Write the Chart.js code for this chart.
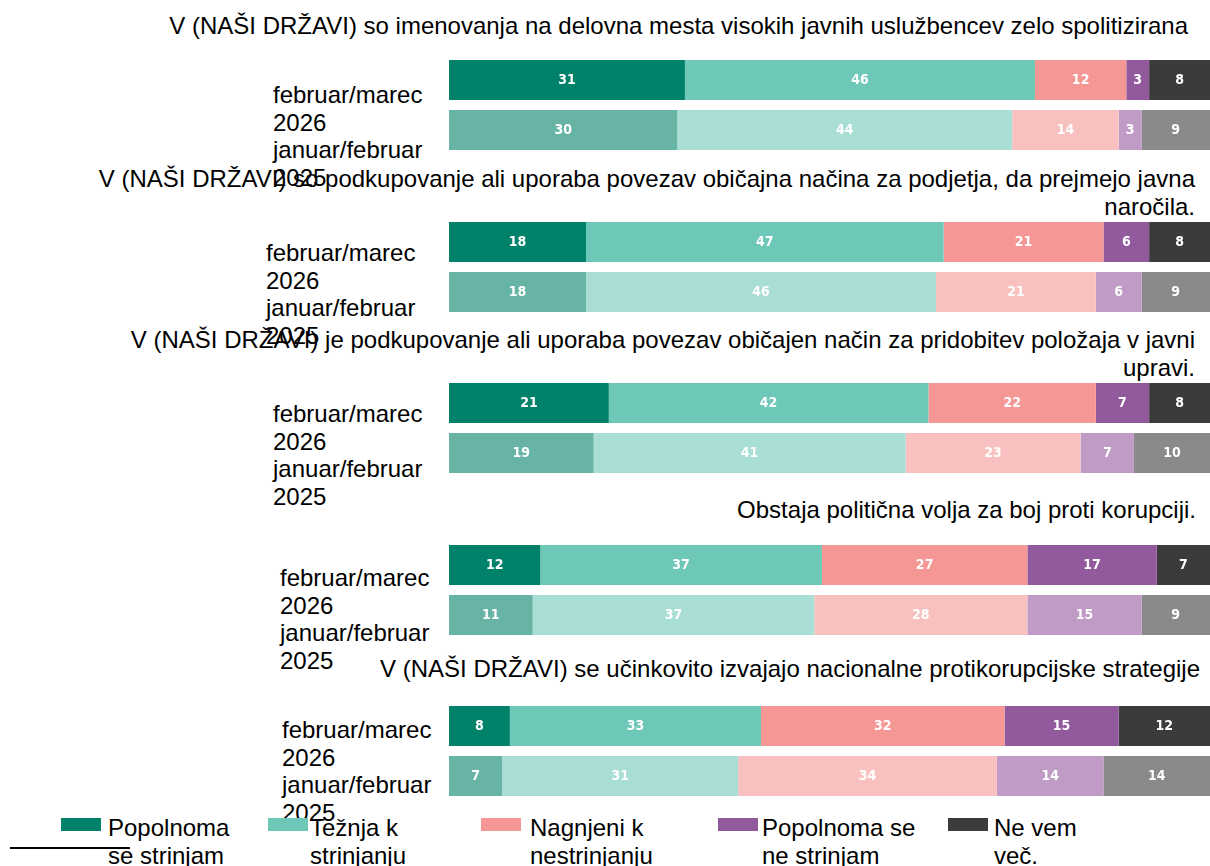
<!DOCTYPE html>
<html>
<head>
<meta charset="utf-8">
<script src="https://cdn.jsdelivr.net/npm/chart.js@4.4.1/dist/chart.umd.min.js"></script>
<style>
  body {
    margin: 0;
    width: 1210px;
    height: 866px;
    overflow: hidden;
    background: #fff;
    position: relative;
    font-family: 'Liberation Sans', Arial, sans-serif;
    font-size: 24px;
    color: #000;
  }
  .title {
    position: absolute;
    width: 1110px;
    text-align: right;
    line-height: 27.6px;
  }
  .periods {
    position: absolute;
    width: 165px;
    line-height: 27.6px;
  }
  .key {
    position: absolute;
    width: 40px;
    height: 13px;
  }
  .keyText {
    position: absolute;
    line-height: 27.6px;
  }
  .rule {
    position: absolute;
    left: 10px;
    top: 847px;
    width: 120px;
    height: 2px;
    background: #000;
  }
  canvas { position: absolute; }
</style>
</head>
<body>
<div class="rule"></div>
<script>
// questions (one panel each)
const questions = [
  'V (NAŠI DRŽAVI) so imenovanja na delovna mesta visokih javnih uslužbencev zelo spolitizirana',
  'V (NAŠI DRŽAVI) so podkupovanje ali uporaba povezav običajna načina za podjetja, da prejmejo javna naročila.',
  'V (NAŠI DRŽAVI) je podkupovanje ali uporaba povezav običajen način za pridobitev položaja v javni upravi.',
  'Obstaja politična volja za boj proti korupciji.',
  'V (NAŠI DRŽAVI) se učinkovito izvajajo nacionalne protikorupcijske strategije'
];

// survey waves, one bar each inside a panel
const periods = ['februar/marec 2026', 'januar/februar 2025'];

// answer categories
const answers = [
  'Popolnoma se strinjam',
  'Težnja k strinjanju',
  'Nagnjeni k nestrinjanju',
  'Popolnoma se ne strinjam',
  'Ne vem več.'
];

// values in %, pairs per question: [2026, 2025, 2026, 2025, ...]
const popolnomaSeStrinjam   = [31, 30, 18, 18, 21, 19, 12, 11, 8, 7];
const teznjaKStrinjanju     = [46, 44, 47, 46, 42, 41, 37, 37, 33, 31];
const nagnjeniKNestrinjanju = [12, 14, 21, 21, 22, 23, 27, 28, 32, 34];
const popolnomaSeNeStrinjam = [3, 3, 6, 6, 7, 7, 17, 15, 15, 14];
const neVem                 = [8, 9, 8, 9, 8, 10, 7, 9, 12, 14];

const series = [popolnomaSeStrinjam, teznjaKStrinjanju, nagnjeniKNestrinjanju, popolnomaSeNeStrinjam, neVem];

// [2026 colour, 2025 colour] per answer
const colours = [
  ['#00826A', '#67B4A6'],
  ['#6EC8B7', '#A9DED5'],
  ['#F59794', '#F8C1C0'],
  ['#93599D', '#BF9BC6'],
  ['#3C3A3D', '#8A898B']
];

// page layout (pixels)
const barTops     = [60, 222, 383, 545, 706];
const titleTops   = [12, 165, 326, 496, 655];
const titleRights = [22, 15, 15, 14, 10];
const periodLefts = [273, 266, 273, 280, 282];
const periodTops  = [81, 239, 400, 564, 716];
const keyLefts    = [61, 268, 481, 718, 948];
const keyTextLefts = [108, 310, 530, 762, 994];
const keyTextWidths = [130, 100, 130, 170, 100];

// white value labels inside the segments
const barValueLabels = {
  id: 'barValueLabels',
  afterDatasetsDraw(chart) {
    const ctx = chart.ctx;
    ctx.save();
    ctx.font = 'bold 14px "DejaVu Sans Condensed", "DejaVu Sans", sans-serif';
    ctx.fillStyle = '#ffffff';
    ctx.textAlign = 'center';
    ctx.textBaseline = 'middle';
    chart.data.datasets.forEach((dataset, i) => {
      chart.getDatasetMeta(i).data.forEach((bar, index) => {
        const p = bar.getCenterPoint();
        ctx.fillText(dataset.data[index], p.x, p.y);
      });
    });
    ctx.restore();
  }
};

questions.forEach((question, q) => {
  const title = document.createElement('div');
  title.className = 'title';
  title.style.top = titleTops[q] + 'px';
  title.style.right = titleRights[q] + 'px';
  title.textContent = question;
  document.body.appendChild(title);

  const labels = document.createElement('div');
  labels.className = 'periods';
  labels.style.left = periodLefts[q] + 'px';
  labels.style.top = periodTops[q] + 'px';
  periods.forEach(p => {
    const d = document.createElement('div');
    d.textContent = p;
    labels.appendChild(d);
  });
  document.body.appendChild(labels);

  const canvas = document.createElement('canvas');
  canvas.width = 761;
  canvas.height = 100;
  canvas.style.left = '449px';
  canvas.style.top = (barTops[q] - 5) + 'px';
  document.body.appendChild(canvas);

  new Chart(canvas.getContext('2d'), {
    type: 'bar',
    data: {
      labels: periods,
      datasets: series.map((values, s) => ({
        label: answers[s],
        data: values.slice(q * 2, q * 2 + 2),
        backgroundColor: colours[s],
        borderWidth: 0,
        barPercentage: 1,
        categoryPercentage: 0.8
      }))
    },
    options: {
      indexAxis: 'y',
      responsive: false,
      animation: false,
      devicePixelRatio: 1,
      layout: { padding: 0 },
      scales: {
        x: { stacked: true, min: 0, max: 100, display: false },
        y: { stacked: true, display: false }
      },
      plugins: {
        legend: { display: false },
        tooltip: { enabled: false }
      }
    },
    plugins: [barValueLabels]
  });
});

// legend below the panels
answers.forEach((answer, s) => {
  const key = document.createElement('div');
  key.className = 'key';
  key.style.left = keyLefts[s] + 'px';
  key.style.top = '818px';
  key.style.background = colours[s][0];
  document.body.appendChild(key);

  const text = document.createElement('div');
  text.className = 'keyText';
  text.style.left = keyTextLefts[s] + 'px';
  text.style.top = '814px';
  text.style.width = keyTextWidths[s] + 'px';
  text.textContent = answer;
  document.body.appendChild(text);
});
</script>
</body>
</html>
